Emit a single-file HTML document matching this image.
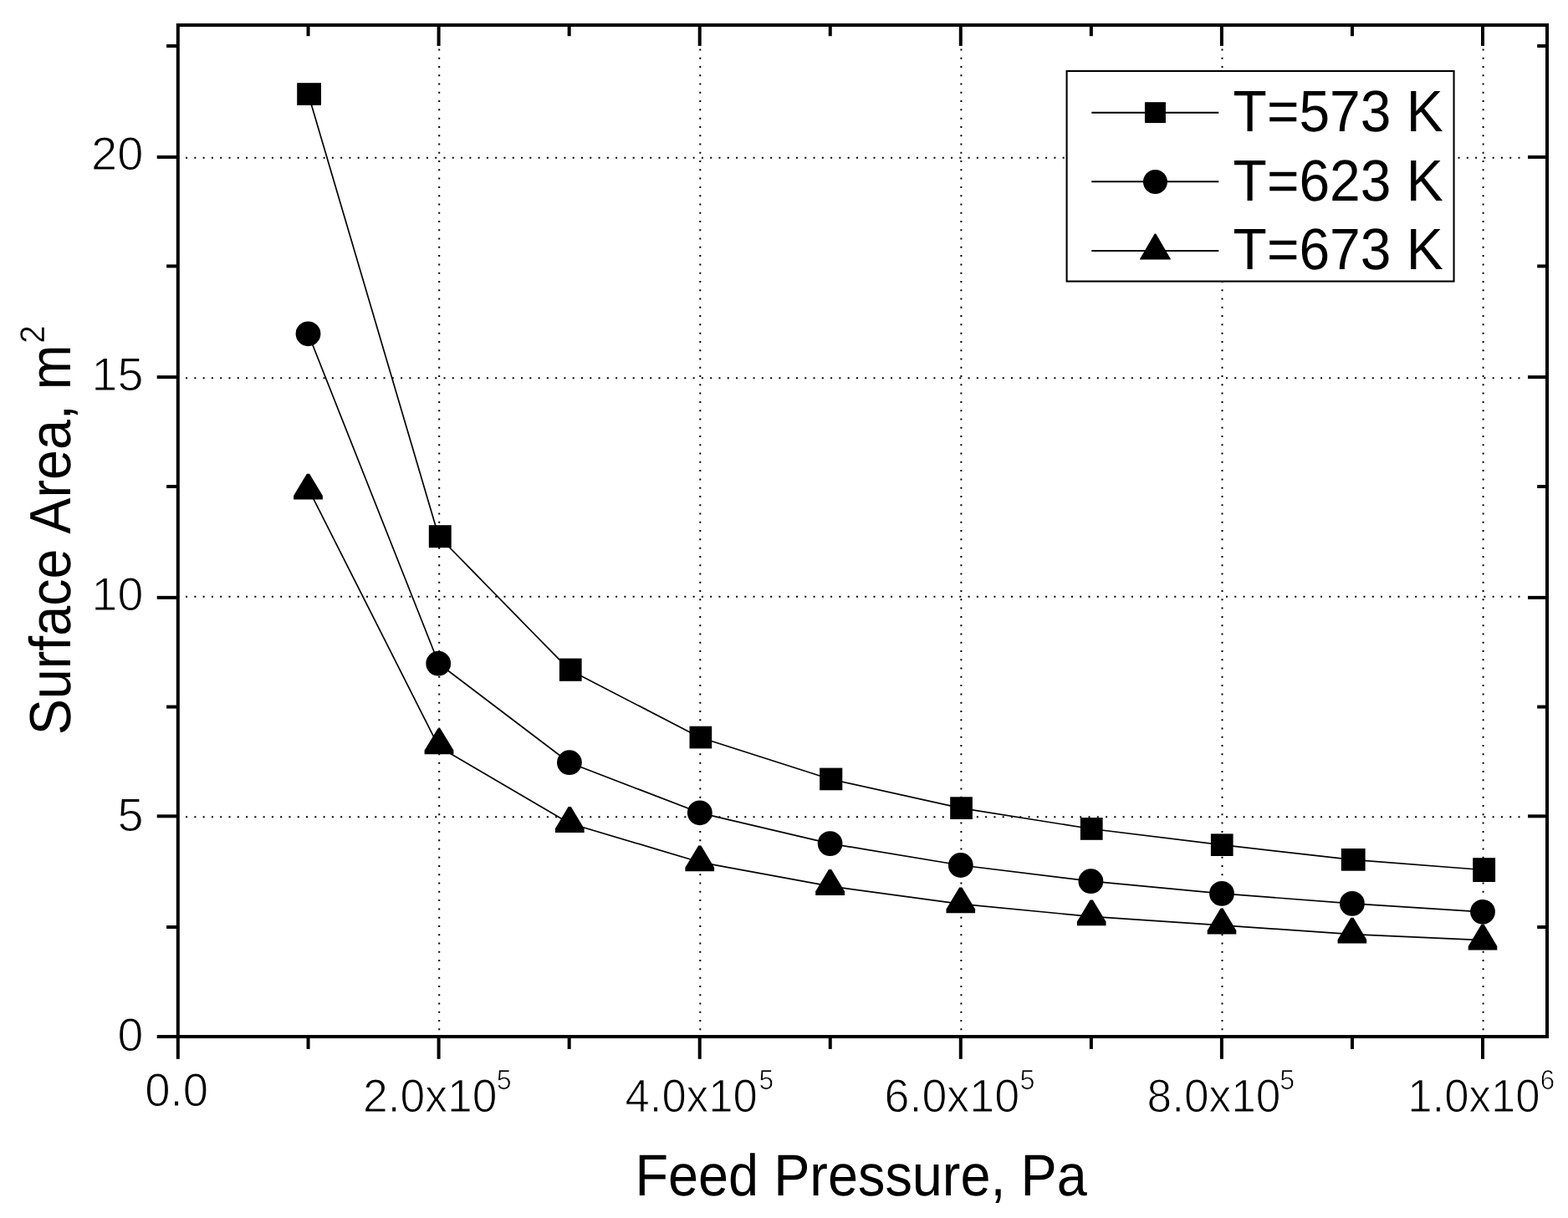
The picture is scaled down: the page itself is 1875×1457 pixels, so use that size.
<!DOCTYPE html>
<html lang="en"><head><meta charset="utf-8">
<title>Surface Area vs Feed Pressure</title>
<style>
html,body{margin:0;padding:0;background:#fff;}
body{width:1875px;height:1457px;overflow:hidden;}
svg{display:block;}
text{font-family:"Liberation Sans", Arial, Helvetica, sans-serif;fill:#000;font-kerning:none;text-rendering:geometricPrecision;}
</style></head><body>
<svg width="1875" height="1457" viewBox="0 0 1875 1457">
<rect x="0" y="0" width="1875" height="1457" fill="#fff"/>
<g stroke="#000" stroke-width="2" stroke-dasharray="2 8.28" fill="none">
<line x1="222.1" y1="188.70" x2="1818" y2="188.70"/>
<line x1="222.1" y1="452.20" x2="1818" y2="452.20"/>
<line x1="222.1" y1="713.80" x2="1818" y2="713.80"/>
<line x1="222.1" y1="977.30" x2="1818" y2="977.30"/>
<line x1="525.20" y1="58.4" x2="525.20" y2="1233"/>
<line x1="837.30" y1="58.4" x2="837.30" y2="1233"/>
<line x1="1149.40" y1="58.4" x2="1149.40" y2="1233"/>
<line x1="1461.50" y1="58.4" x2="1461.50" y2="1233"/>
<line x1="1773.60" y1="58.4" x2="1773.60" y2="1233"/>
</g>
<g stroke="#000" stroke-width="1.7" fill="none" stroke-linejoin="round">
<polyline points="368.6,112.6 524.6,641.7 680.7,801.2 836.7,882.0 992.8,932.0 1148.8,966.6 1304.9,991.5 1460.9,1010.7 1617.0,1028.3 1773.0,1040.5"/>
<polyline points="368.6,399.3 524.6,793.7 680.7,912.2 836.7,972.3 992.8,1009.1 1148.8,1035.0 1304.9,1054.2 1460.9,1068.9 1617.0,1080.9 1773.0,1090.8"/>
<polyline points="368.6,584.3 524.6,893.2 680.7,984.7 836.7,1031.3 992.8,1060.1 1148.8,1081.4 1304.9,1096.4 1460.9,1106.8 1617.0,1117.7 1773.0,1124.6"/>
</g>
<g fill="#000" stroke="none">
<rect x="355.2" y="99.2" width="28.8" height="26.7"/>
<rect x="512.8" y="628.2" width="26.9" height="27.0"/>
<rect x="668.9" y="787.6" width="26.7" height="27.2"/>
<rect x="824.5" y="868.7" width="26.7" height="26.7"/>
<rect x="980.1" y="918.6" width="27.2" height="26.7"/>
<rect x="1136.2" y="953.3" width="26.7" height="26.7"/>
<rect x="1291.9" y="978.1" width="26.7" height="26.7"/>
<rect x="1447.9" y="997.4" width="26.7" height="26.6"/>
<rect x="1603.8" y="1015.0" width="28.8" height="26.7"/>
<rect x="1761.2" y="1026.2" width="26.9" height="28.8"/>
<circle cx="368.5" cy="399.3" r="14.9"/>
<circle cx="524.2" cy="793.7" r="14.9"/>
<circle cx="680.9" cy="912.2" r="14.9"/>
<circle cx="836.8" cy="972.3" r="14.9"/>
<circle cx="992.6" cy="1009.1" r="14.9"/>
<circle cx="1148.8" cy="1035.0" r="14.9"/>
<circle cx="1304.4" cy="1054.2" r="14.9"/>
<circle cx="1461.0" cy="1068.9" r="14.9"/>
<circle cx="1616.9" cy="1080.9" r="14.9"/>
<circle cx="1773.0" cy="1090.8" r="14.9"/>
<polygon points="366.9,566.7 370.1,566.7 385.9,592.9 385.9,597.5 351.1,597.5 351.1,592.9"/>
<polygon points="523.4,871.4 526.6,871.4 542.4,897.6 542.4,902.2 507.6,902.2 507.6,897.6"/>
<polygon points="679.6,965.1 682.8,965.1 698.6,991.3 698.6,995.9 663.9,995.9 663.9,991.3"/>
<polygon points="835.2,1011.5 838.4,1011.5 854.1,1037.7 854.1,1042.3 819.4,1042.3 819.4,1037.7"/>
<polygon points="991.0,1040.1 994.2,1040.1 1010.0,1066.3 1010.0,1070.9 975.2,1070.9 975.2,1066.3"/>
<polygon points="1147.2,1061.4 1150.4,1061.4 1166.1,1087.6 1166.1,1092.2 1131.5,1092.2 1131.5,1087.6"/>
<polygon points="1303.6,1076.4 1306.8,1076.4 1322.5,1102.6 1322.5,1107.2 1287.9,1107.2 1287.9,1102.6"/>
<polygon points="1459.4,1086.8 1462.6,1086.8 1478.3,1113.0 1478.3,1117.6 1443.7,1117.6 1443.7,1113.0"/>
<polygon points="1615.3,1097.7 1618.5,1097.7 1634.2,1123.9 1634.2,1128.5 1599.6,1128.5 1599.6,1123.9"/>
<polygon points="1771.4,1105.7 1774.6,1105.7 1790.3,1131.9 1790.3,1136.5 1755.7,1136.5 1755.7,1131.9"/>
</g>
<g stroke="#000" stroke-width="4.0" fill="none" stroke-linecap="butt">
<rect x="212.80" y="30.00" width="1637.20" height="1210.05"/>
<line x1="212.80" y1="1240.05" x2="212.80" y2="1266.80"/>
<line x1="368.55" y1="1240.05" x2="368.55" y2="1254.90"/>
<line x1="368.55" y1="30.00" x2="368.55" y2="43.20"/>
<line x1="524.60" y1="1240.05" x2="524.60" y2="1266.80"/>
<line x1="524.60" y1="30.00" x2="524.60" y2="54.90"/>
<line x1="680.65" y1="1240.05" x2="680.65" y2="1254.90"/>
<line x1="680.65" y1="30.00" x2="680.65" y2="43.20"/>
<line x1="836.70" y1="1240.05" x2="836.70" y2="1266.80"/>
<line x1="836.70" y1="30.00" x2="836.70" y2="54.90"/>
<line x1="992.75" y1="1240.05" x2="992.75" y2="1254.90"/>
<line x1="992.75" y1="30.00" x2="992.75" y2="43.20"/>
<line x1="1148.80" y1="1240.05" x2="1148.80" y2="1266.80"/>
<line x1="1148.80" y1="30.00" x2="1148.80" y2="54.90"/>
<line x1="1304.85" y1="1240.05" x2="1304.85" y2="1254.90"/>
<line x1="1304.85" y1="30.00" x2="1304.85" y2="43.20"/>
<line x1="1460.90" y1="1240.05" x2="1460.90" y2="1266.80"/>
<line x1="1460.90" y1="30.00" x2="1460.90" y2="54.90"/>
<line x1="1616.95" y1="1240.05" x2="1616.95" y2="1254.90"/>
<line x1="1616.95" y1="30.00" x2="1616.95" y2="43.20"/>
<line x1="1773.00" y1="1240.05" x2="1773.00" y2="1266.80"/>
<line x1="1773.00" y1="30.00" x2="1773.00" y2="54.90"/>
<line x1="187.7" y1="1240.05" x2="212.80" y2="1240.05"/>
<line x1="187.7" y1="976.35" x2="212.80" y2="976.35"/>
<line x1="1827" y1="976.35" x2="1850.00" y2="976.35"/>
<line x1="187.7" y1="714.85" x2="212.80" y2="714.85"/>
<line x1="1827" y1="714.85" x2="1850.00" y2="714.85"/>
<line x1="187.7" y1="451.10" x2="212.80" y2="451.10"/>
<line x1="1827" y1="451.10" x2="1850.00" y2="451.10"/>
<line x1="187.7" y1="187.90" x2="212.80" y2="187.90"/>
<line x1="1827" y1="187.90" x2="1850.00" y2="187.90"/>
<line x1="199.1" y1="1109.00" x2="212.80" y2="1109.00"/>
<line x1="1838.2" y1="1109.00" x2="1850.00" y2="1109.00"/>
<line x1="199.1" y1="845.55" x2="212.80" y2="845.55"/>
<line x1="1838.2" y1="845.55" x2="1850.00" y2="845.55"/>
<line x1="199.1" y1="582.00" x2="212.80" y2="582.00"/>
<line x1="1838.2" y1="582.00" x2="1850.00" y2="582.00"/>
<line x1="199.1" y1="318.40" x2="212.80" y2="318.40"/>
<line x1="1838.2" y1="318.40" x2="1850.00" y2="318.40"/>
<line x1="199.1" y1="55.00" x2="212.80" y2="55.00"/>
<line x1="1838.2" y1="55.00" x2="1850.00" y2="55.00"/>
</g>
<g>
<text transform="translate(109.03,202.90) scale(1.0015,1)" font-size="55.93" stroke="#fff" stroke-width="1.10" stroke-linejoin="round">20</text>
<text transform="translate(109.51,466.70) scale(0.9963,1)" font-size="55.93" stroke="#fff" stroke-width="1.10" stroke-linejoin="round">15</text>
<text transform="translate(109.52,730.10) scale(0.9934,1)" font-size="55.93" stroke="#fff" stroke-width="1.10" stroke-linejoin="round">10</text>
<text transform="translate(140.41,993.50) scale(0.9993,1)" font-size="55.93" stroke="#fff" stroke-width="1.10" stroke-linejoin="round">5</text>
<text transform="translate(140.48,1257.00) scale(0.9911,1)" font-size="55.93" stroke="#fff" stroke-width="1.10" stroke-linejoin="round">0</text>
<text transform="translate(173.22,1322.60) scale(0.9757,1)" font-size="55.93" stroke="#fff" stroke-width="1.10" stroke-linejoin="round">0.0</text>
<text transform="translate(433.96,1330.31) scale(0.9580,1)" font-size="55.79" stroke="#fff" stroke-width="1.10" stroke-linejoin="round">2.0x10<tspan x="166.86" y="-27.23" font-size="33.54" stroke="#fff" stroke-width="0.80">5</tspan></text>
<text transform="translate(747.54,1330.31) scale(0.9448,1)" font-size="55.79" stroke="#fff" stroke-width="1.10" stroke-linejoin="round">4.0x10<tspan x="169.44" y="-27.23" font-size="33.54" stroke="#fff" stroke-width="0.80">5</tspan></text>
<text transform="translate(1057.52,1330.31) scale(0.9650,1)" font-size="55.79" stroke="#fff" stroke-width="1.10" stroke-linejoin="round">6.0x10<tspan x="167.98" y="-27.23" font-size="33.54" stroke="#fff" stroke-width="0.80">5</tspan></text>
<text transform="translate(1371.53,1330.31) scale(0.9549,1)" font-size="55.79" stroke="#fff" stroke-width="1.10" stroke-linejoin="round">8.0x10<tspan x="166.29" y="-27.23" font-size="33.54" stroke="#fff" stroke-width="0.80">5</tspan></text>
<text transform="translate(1683.23,1330.31) scale(0.9455,1)" font-size="55.79" stroke="#fff" stroke-width="1.10" stroke-linejoin="round">1.0x10<tspan x="167.72" y="-27.23" font-size="33.05" stroke="#fff" stroke-width="0.80">6</tspan></text>
</g>
<text transform="translate(759.38,1430.30) scale(0.9235,1)" font-size="70.20">Feed Pressure, Pa</text>
<text transform="translate(83.75,879.34) rotate(-90) scale(0.9293,1)" font-size="69.55">Surface Area, m<tspan x="504.23" y="-30.65" font-size="41.53" stroke="#fff" stroke-width="0.40">2</tspan></text>
<rect x="1275.6" y="85.0" width="462.95" height="251.55" fill="#fff" stroke="#000" stroke-width="2.1"/>
<g stroke="#000" stroke-width="2">
<line x1="1305.3" y1="134.8" x2="1457.3" y2="134.8"/>
<line x1="1305.3" y1="217.3" x2="1457.3" y2="217.3"/>
<line x1="1305.3" y1="299.9" x2="1457.3" y2="299.9"/>
</g>
<g fill="#000">
<rect x="1368.95" y="122.20" width="25" height="24.9"/>
<circle cx="1381.45" cy="217.40" r="14.5"/>
<polygon points="1380.7,279.6 1382.2,279.6 1399.7,309.4 1399.7,310.6 1363.2,310.6 1363.2,309.4"/>
</g>
<g>
<text transform="translate(1474.62,156.90) scale(0.9456,1)" font-size="69.77">T=573 K</text>
<text transform="translate(1474.62,239.60) scale(0.9456,1)" font-size="69.77">T=623 K</text>
<text transform="translate(1474.62,322.30) scale(0.9456,1)" font-size="69.77">T=673 K</text>
</g>
</svg>
</body></html>
